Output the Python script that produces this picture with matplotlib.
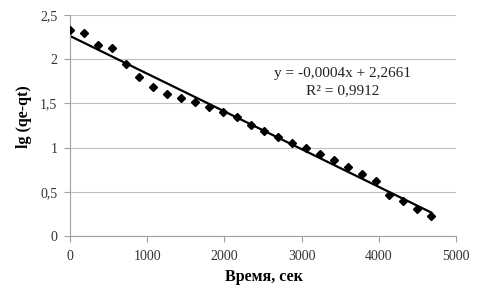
import numpy as np
import matplotlib
matplotlib.use("Agg")
import matplotlib.pyplot as plt

plt.rcParams['font.family'] = ['Liberation Serif', 'DejaVu Serif']

# time, sec
t = np.arange(0, 4681, 180)
# lg(qe-qt)
lg = [2.33, 2.29, 2.16, 2.12, 1.95, 1.80, 1.68, 1.60, 1.56, 1.52, 1.46, 1.40, 1.34,
      1.26, 1.19, 1.12, 1.055, 1.00, 0.93, 0.855, 0.775, 0.705, 0.62, 0.465, 0.40, 0.31, 0.22]
eq_text = "y = -0,0004x + 2,2661"
r2_text = "R² = 0,9912"

fig = plt.figure(figsize=(4.86, 2.92), dpi=100)
ax = fig.add_axes([0.144, 0.192, 0.794, 0.757])

k, b = np.polyfit(t, lg, 1)
ax.plot([t[0], t[-1]], [b, k * t[-1] + b], color='black', lw=1.6, zorder=2)
ax.plot(t, lg, 'D', color='black', ms=4.5, zorder=3)

ax.set_xlim(0, 5000)
ax.set_ylim(0, 2.5)
ax.set_xticks(np.arange(0, 5001, 1000))
ax.set_yticks(np.arange(0, 2.51, 0.5))
ax.set_yticklabels(['0', '0,5', '1', '1,5', '2', '2,5'])
ax.grid(axis='y', color='#c0c0c0', lw=0.8)
ax.set_axisbelow(True)
for s in ['top', 'right']:
    ax.spines[s].set_visible(False)
for s in ['left', 'bottom']:
    ax.spines[s].set_color('#a0a0a0')
ax.tick_params(colors='#a0a0a0', labelcolor='#333333', labelsize=10, length=4)
ax.tick_params(axis='x', pad=6)
ax.tick_params(axis='y', pad=5)

ax.set_xlabel("Время, сек", fontsize=11.5, fontweight='bold')
ax.set_ylabel("lg (qe-qt)", fontsize=11.5, fontweight='bold')
ax.xaxis.set_label_coords(0.503, -0.148)
ax.yaxis.set_label_coords(-0.098, 0.54)

ax.text(3530, 1.84, eq_text, ha='center', va='center', fontsize=11, color='#222222')
ax.text(3530, 1.645, r2_text, ha='center', va='center', fontsize=11, color='#222222')

fig.savefig("out.png", dpi=100)
